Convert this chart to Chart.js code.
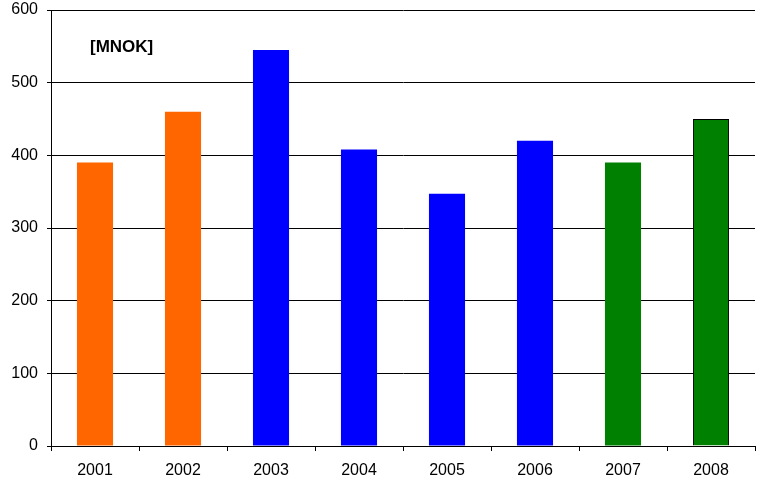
<!DOCTYPE html>
<html>
<head>
<meta charset="utf-8">
<script src="https://cdn.jsdelivr.net/npm/chart.js"></script>
<style>
  html, body { margin: 0; padding: 0; background: #fff; }
  #wrap { width: 762px; height: 481px; }
</style>
</head>
<body>
<div id="wrap"><canvas id="chart"></canvas></div>
<script>
// values
const years = ['2001', '2002', '2003', '2004', '2005', '2006', '2007', '2008'];
const amounts = [390, 460, 545, 408, 347, 420, 390, 450];
const barColors = ['#ff6600', '#ff6600', '#0000ff', '#0000ff', '#0000ff', '#0000ff', '#008000', '#008000'];
const yTicks = [0, 100, 200, 300, 400, 500, 600];
const unitLabel = '[MNOK]';

const FONT = "'Liberation Sans', Arial, sans-serif";

// draws the unit label inside the plot area
const unitPlugin = {
  id: 'unitLabel',
  afterDraw(chart) {
    const ctx = chart.ctx;
    ctx.save();
    ctx.font = 'bold 17px ' + FONT;
    ctx.fillStyle = '#000';
    ctx.textBaseline = 'middle';
    ctx.fillText(unitLabel, 90, 47);
    ctx.restore();
  }
};

new Chart(document.getElementById('chart'), {
  type: 'bar',
  data: {
    labels: years,
    datasets: [{
      data: amounts,
      backgroundColor: barColors,
      borderColor: years.map((y, i) => i === years.length - 1 ? '#000' : 'rgba(0,0,0,0)'),
      borderWidth: years.map((y, i) => i === years.length - 1 ? 1 : 0),
      barPercentage: 0.41,
      categoryPercentage: 1
    }]
  },
  options: {
    responsive: true,
    maintainAspectRatio: false,
    animation: false,
    layout: { padding: { top: 10, right: 7, left: 0, bottom: 0 } },
    plugins: { legend: { display: false }, tooltip: { enabled: false } },
    scales: {
      x: {
        offset: true,
        grid: { offset: true, drawOnChartArea: false, color: '#000', tickLength: 5, tickColor: '#000' },
        border: { color: '#000', width: 1 },
        ticks: { color: '#000', font: { family: FONT, size: 16 }, padding: 10, maxRotation: 0 },
        afterFit(scale) { scale.height = 35; scale.paddingLeft = 0; scale.paddingRight = 0; }
      },
      y: {
        min: 0,
        max: 600,
        afterBuildTicks(scale) { scale.ticks = yTicks.map(v => ({ value: v })); },
        grid: { color: '#000', tickLength: 4, tickColor: '#000' },
        border: { color: '#000', width: 1 },
        ticks: { color: '#000', font: { family: FONT, size: 16 }, padding: 9 },
        afterFit(scale) { scale.width = 51; scale.paddingTop = 0; scale.paddingBottom = 0; }
      }
    }
  },
  plugins: [unitPlugin]
});
</script>
</body>
</html>
